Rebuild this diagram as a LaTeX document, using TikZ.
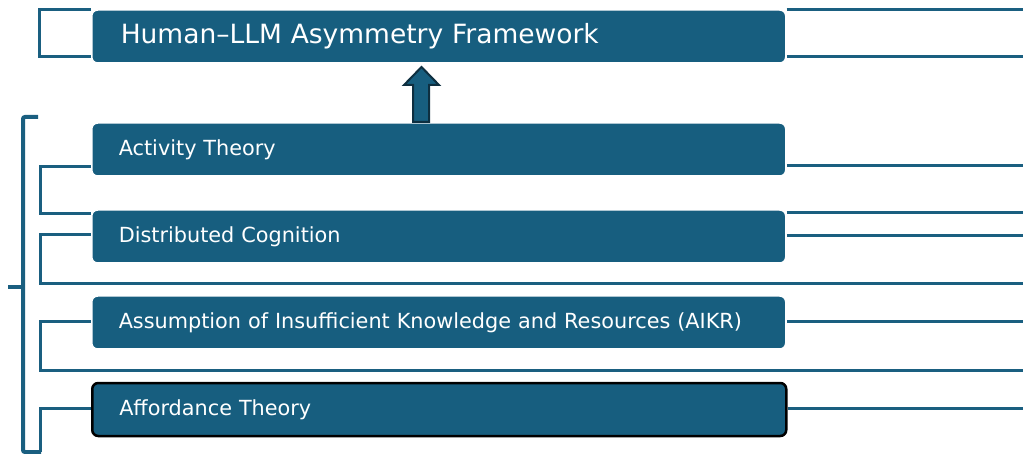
\documentclass[tikz,border=0pt]{standalone}
\usepackage{fontspec}
\setmainfont{DejaVu Sans}
\usetikzlibrary{backgrounds}
\definecolor{frame}{HTML}{1A5F80}
\definecolor{boxfill}{HTML}{175E7F}
\definecolor{arrowedge}{HTML}{0E2F40}

\begin{document}
\begin{tikzpicture}[x=1pt,y=-1pt,
	layer/.style={draw=white,line width=1.5pt,fill=boxfill,rounded corners=6pt,text=white,
		text width=640pt,inner xsep=27pt,inner ysep=0pt,minimum height=53pt,anchor=west,
		font=\fontsize{20.8}{24}\selectfont},
	link/.style={draw=frame,line width=3pt},
	]
		\useasboundingbox (0,0) rectangle (1023,454);
		%boxes
		\node[layer,inner xsep=29pt,text width=636pt,font=\fontsize{26.5}{30}\selectfont] (hlaf) at (91,36.5) {Human--LLM Asymmetry Framework};
		\node[layer] (act) at (91,149.5) {Activity Theory};
		\node[layer] (dcog) at (91,236.5) {Distributed Cognition};
		\node[layer] (aikr) at (91,322.5) {Assumption of Insufficient Knowledge and Resources (AIKR)};
		\node[layer,draw=black,line width=2.5pt] (afford) at (91,409.5) {Affordance Theory};
		\begin{scope}[on background layer]
			%top frame
			\draw[link] (hlaf.west |- 0,10) -- (39,10) -- (39,57) -- (hlaf.west |- 0,57);
			\draw[link] (hlaf.east |- 0,10) -- (1023,10);
			\draw[link] (hlaf.east |- 0,57) -- (1023,57);
			%activity
			\draw[link] (act.west |- 0,167) -| (40,214) -- (dcog.west |- 0,214);
			\draw[link] (act.east |- 0,166) -- (1023,166);
			\draw[link] (dcog.east |- 0,213) -- (1023,213);
			%distributed
			\draw[link] (dcog.west |- 0,235) -| (40,284) -- (1023,284);
			\draw[link] (dcog.east |- 0,236) -- (1023,236);
			%aikr
			\draw[link] (aikr.west |- 0,322) -| (40,370) -- (1023,370);
			\draw[link] (aikr.east |- 0,322) -- (1023,322);
			%affordance
			\draw[link] (afford.west |- 0,408) -| (40,452);
			\draw[link] (afford.east |- 0,408) -- (1023,408);
		\end{scope}
		%brace
		\draw[frame,line width=4pt,rounded corners=2pt] (38,117) -- (23,117) -- (23,452) -- (41,452);
		\draw[frame,line width=4pt] (23,287) -- (8,287);
		%arrow
		\filldraw[fill=boxfill,draw=arrowedge,line width=2pt] (413,122) -- (413,85) -- (404,85) -- (421.5,67) -- (439,85) -- (429,85) -- (429,122) -- cycle;
\end{tikzpicture}
\end{document}
